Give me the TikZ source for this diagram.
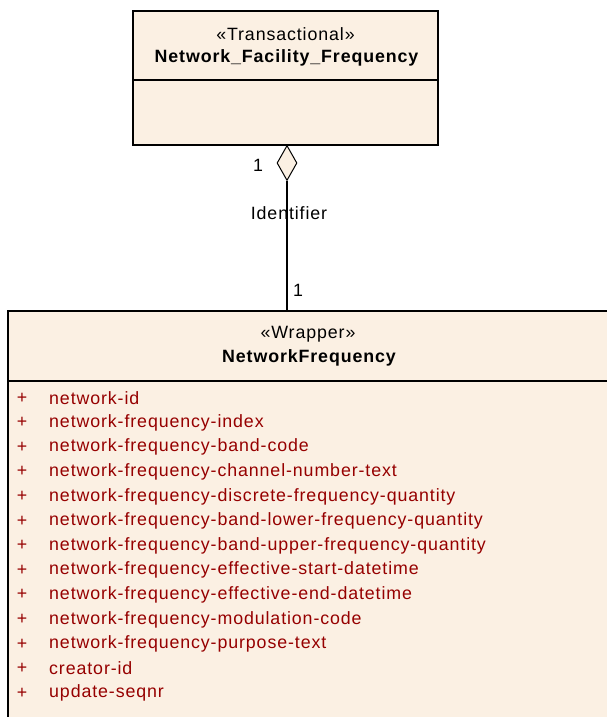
\documentclass[tikz,border=0pt]{standalone}
\usepackage{fontspec}
\setmainfont[LetterSpace=5]{Liberation Sans}
\usetikzlibrary{shapes.geometric}
\definecolor{classfill}{RGB}{251,240,227}
\definecolor{attrred}{RGB}{150,0,0}

\begin{document}
\begin{tikzpicture}[x=1pt,y=-1pt,
  every node/.style={font=\fontsize{17.8}{20}\selectfont,inner sep=0pt},
  classbox/.style={draw,line width=1.3pt,fill=classfill},
  attr/.style={attrred,anchor=west}]
  \useasboundingbox (0,0) rectangle (607,717);
  \clip (0,0) rectangle (607,717);
  % transactional class
  \draw[classbox] (133,11) rectangle (438,145);
  \draw[line width=1.3pt] (133,80) -- (438,80);
  \node (stereoA) at (285.5,34) {«Transactional»};
  \node[font=\fontsize{17.8}{20}\selectfont\bfseries] (facility) at (286.5,58)
    {Network\_Facility\_Frequency};
  % wrapper class
  \draw[classbox] (8,311) rectangle (640,760);
  \draw[line width=1.3pt] (8,381) -- (640,381);
  \node (stereoB) at (308,334) {«Wrapper»};
  \node[font=\fontsize{17.8}{20}\selectfont\bfseries] (wrapper) at (309,358)
    {NetworkFrequency};
  \foreach \a [count=\i from 0] in {network-id,network-frequency-index,
      network-frequency-band-code,network-frequency-channel-number-text,
      network-frequency-discrete-frequency-quantity,
      network-frequency-band-lower-frequency-quantity,
      network-frequency-band-upper-frequency-quantity,
      network-frequency-effective-start-datetime,
      network-frequency-effective-end-datetime,
      network-frequency-modulation-code,network-frequency-purpose-text,
      creator-id,update-seqnr} {
    \node[attrred] (plus\i) at (22,398+24.6*\i) {+};
    \node[attr] (attr\i) at (49,398+24.6*\i) {\a};
  }
  % aggregation
  \node[draw,shape=diamond,fill=classfill,line width=1pt,minimum width=20pt,
    minimum height=35pt,anchor=north] (agg) at (287,145) {};
  \coordinate (wtop) at (287,311);
  \draw[line width=1.3pt] (agg.south) -- (wtop);
  \node (multA) at (258,165) {1};
  \node (role) at (289,213) {Identifier};
  \node (multB) at (298,290) {1};
\end{tikzpicture}
\end{document}
